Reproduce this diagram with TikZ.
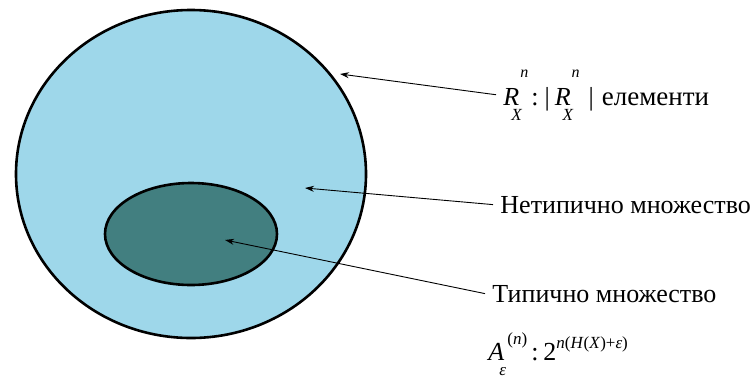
\documentclass[tikz,border=0pt]{standalone}
\usepackage{fontspec}
\setmainfont{Liberation Serif}
\usetikzlibrary{arrows.meta}
\definecolor{outerblue}{RGB}{158,215,234}
\definecolor{innerteal}{RGB}{66,127,128}
\newcommand{\tv}[1]{\textit{#1}}
% symbol with a low subscript and a high superscript, as the equation editor sets them
\newcommand{\setsym}[3]{\tv{#1}\rlap{\kern-8pt\raisebox{-15pt}{\fontsize{17}{17}\selectfont\tv{#2}}}%
  \kern1pt\raisebox{28pt}{\fontsize{16}{16}\selectfont\tv{#3}}}
\begin{document}
\begin{tikzpicture}[x=1pt,y=-1pt,line width=0.9pt,
  every node/.style={font=\fontsize{26}{30}\selectfont,inner sep=7pt},
  set/.style={draw,line width=2.6pt},
  pointer/.style={-{Stealth[length=9pt,width=6pt]}}]
\useasboundingbox (0,0) rectangle (751,381);
\coordinate (Rt) at (340,74);
\coordinate (Nt) at (305,188);
\coordinate (Tt) at (225,240);
\draw[set,fill=outerblue] (191,174) ellipse[x radius=175,y radius=164];
\draw[set,fill=innerteal] (191,234) ellipse[x radius=86,y radius=51];
\node[anchor=base west] (R) at (496,105)
  {\setsym{R}{X}{n}\kern3pt:\kern6pt|\kern5pt\setsym{R}{X}{n}\kern9pt|\kern8pt{\fontsize{27}{30}\selectfont елементи}};
\node[anchor=base west] (N) at (493,213) {Нетипично множество};
\node[anchor=base west] (T) at (485,302) {Типично множество};
\node[anchor=base west] (A) at (481,360)
  {\tv{A}\rlap{\kern-5pt\raisebox{-15pt}{\fontsize{17}{17}\selectfont\tv{ε}}}%
   \kern3pt\raisebox{16pt}{\fontsize{17}{17}\selectfont(\tv{n})}\kern4pt:\kern5pt2%
   \raisebox{12pt}{\fontsize{17}{17}\selectfont\tv{n}(\tv{H}(\tv{X})+\tv{ε})}};
\draw[pointer] (R.west) -- (Rt);
\draw[pointer] (N.west) -- (Nt);
\draw[pointer] (T.west) -- (Tt);
\end{tikzpicture}
\end{document}
